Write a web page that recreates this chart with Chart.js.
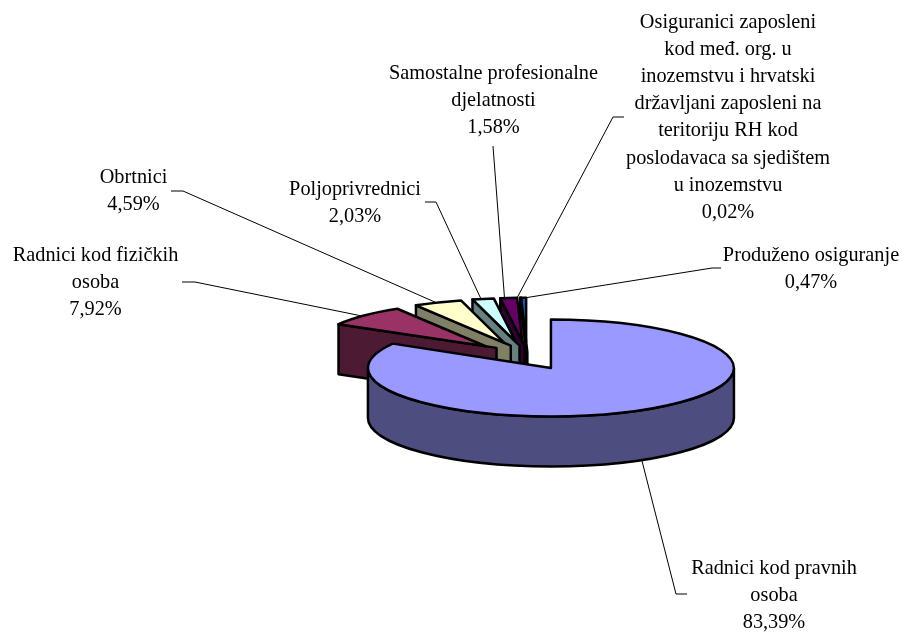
<!DOCTYPE html>
<html>
<head>
<meta charset="utf-8">
<script src="https://cdn.jsdelivr.net/npm/chart.js@4"></script>
<style>html,body{margin:0;padding:0;background:#fff}canvas{display:block}</style>
</head>
<body>
<canvas id="c" width="916" height="633"></canvas>
<script>
const categories = [
  ["Radnici kod pravnih", "osoba"],
  ["Radnici kod fizičkih", "osoba"],
  ["Obrtnici"],
  ["Poljoprivrednici"],
  ["Samostalne profesionalne", "djelatnosti"],
  ["Osiguranici zaposleni", "kod međ. org. u", "inozemstvu i hrvatski", "državljani zaposleni na", "teritoriju RH kod", "poslodavaca sa sjedištem", "u inozemstvu"],
  ["Produženo osiguranje"]
];
const values = [83.39, 7.92, 4.59, 2.03, 1.58, 0.02, 0.47];

const topColors  = ["#9999ff", "#993366", "#ffffcc", "#ccffff", "#660066", "#ff8080", "#0066cc"];
const wallColors = ["#4d4d80", "#4d1a33", "#808066", "#668080", "#330033", "#804040", "#003366"];
const explode = [48, 58, 58, 58, 58, 58, 58];

// label placement: centre x, first baseline y
const labelAnchors = [[774,574],[95.5,261],[133.5,183],[355,195],[493.5,79],[728,28],[811,261]];
const lineStep = 27.1;
// leader polylines
const leaders = [
  [[687,594],[676,594],[642,461]],
  [[182,282],[195,282],[362,316]],
  [[171,191],[183,191],[437,303]],
  [[425,202],[436,202],[481,299]],
  [[493,146],[504.5,298]],
  [[624,117],[613,117],[517,298]],
  [[721,268],[712,268],[524,298]]
];

const FLAT = 0.265, DEPTH = 50, FAR_SCALE_X = 0.93, FAR_SCALE_Y = 0.905, STROKE = 2.5;

const pie3d = {
  id: 'pie3d',
  beforeDatasetDraw(chart) {
    const ctx = chart.ctx, arcs = chart.getDatasetMeta(0).data;

    ctx.save();
    ctx.strokeStyle = '#000'; ctx.lineWidth = 1;
    leaders.forEach(pts => {
      ctx.beginPath();
      pts.forEach((p, k) => k ? ctx.lineTo(p[0], p[1]) : ctx.moveTo(p[0], p[1]));
      ctx.stroke();
    });
    ctx.restore();

    const geom = arcs.map((arc, i) => {
      const a0 = arc.startAngle, a1 = arc.endAngle, mid = (a0 + a1) / 2;
      const off = arc.options.offset;
      const r = arc.outerRadius;
      return { arc, a0, a1,
        rx: r * (i === 0 ? 1 : FAR_SCALE_X),
        ry: r * FLAT * (i === 0 ? 1 : FAR_SCALE_Y),
        ax: arc.x + Math.cos(mid) * off,
        ay: arc.y + Math.sin(mid) * off * FLAT };
    });

    ctx.save();
    ctx.lineWidth = STROKE; ctx.lineJoin = 'round'; ctx.strokeStyle = '#000';
    const paint = (fill) => { ctx.fillStyle = fill; ctx.fill(); ctx.stroke(); };

    for (let i = geom.length - 1; i >= 0; i--) {
      const g = geom[i];
      if (i === 0) {
        // outer wall of the front slice
        ctx.beginPath();
        ctx.ellipse(g.ax, g.ay, g.rx, g.ry, 0, 0, Math.PI);
        ctx.ellipse(g.ax, g.ay + DEPTH, g.rx, g.ry, 0, Math.PI, 0, true);
        ctx.closePath();
        paint(wallColors[i]);
      } else {
        // cut wall along the slice's first radius
        const px = g.ax + g.rx * Math.cos(g.a0), py = g.ay + g.ry * Math.sin(g.a0);
        const ext = 0.24 * Math.abs(g.ax - g.arc.x) + 1;
        const slope = (g.ay - py) / ((g.ax - px) || 1);
        const ex = g.ax + ext, ey = g.ay + ext * slope;
        ctx.beginPath();
        ctx.moveTo(px, py); ctx.lineTo(ex, ey);
        ctx.lineTo(ex, ey + DEPTH); ctx.lineTo(px, py + DEPTH);
        ctx.closePath();
        paint(wallColors[i]);
      }
      ctx.beginPath();
      ctx.moveTo(g.ax, g.ay);
      ctx.ellipse(g.ax, g.ay, g.rx, g.ry, 0, g.a0, g.a1);
      ctx.closePath();
      paint(topColors[i]);
    }
    ctx.restore();

    ctx.save();
    ctx.fillStyle = '#000';
    ctx.font = '20.3px "Liberation Serif", serif';
    ctx.textAlign = 'center';
    ctx.textBaseline = 'alphabetic';
    categories.forEach((lines, i) => {
      const pct = values[i].toFixed(2).replace('.', ',') + '%';
      [...lines, pct].forEach((t, k) => {
        ctx.fillText(t, labelAnchors[i][0], labelAnchors[i][1] + k * lineStep);
      });
    });
    ctx.restore();
    return false;
  }
};

new Chart(document.getElementById('c'), {
  type: 'pie',
  data: {
    labels: categories,
    datasets: [{
      data: values,
      backgroundColor: topColors,
      borderColor: '#000',
      borderWidth: STROKE,
      offset: explode
    }]
  },
  options: {
    responsive: false,
    animation: false,
    rotation: 0,
    radius: 183,
    layout: { padding: { left: 138, top: 81 } },
    plugins: { legend: { display: false }, tooltip: { enabled: false } }
  },
  plugins: [pie3d]
});
</script>
</body>
</html>
